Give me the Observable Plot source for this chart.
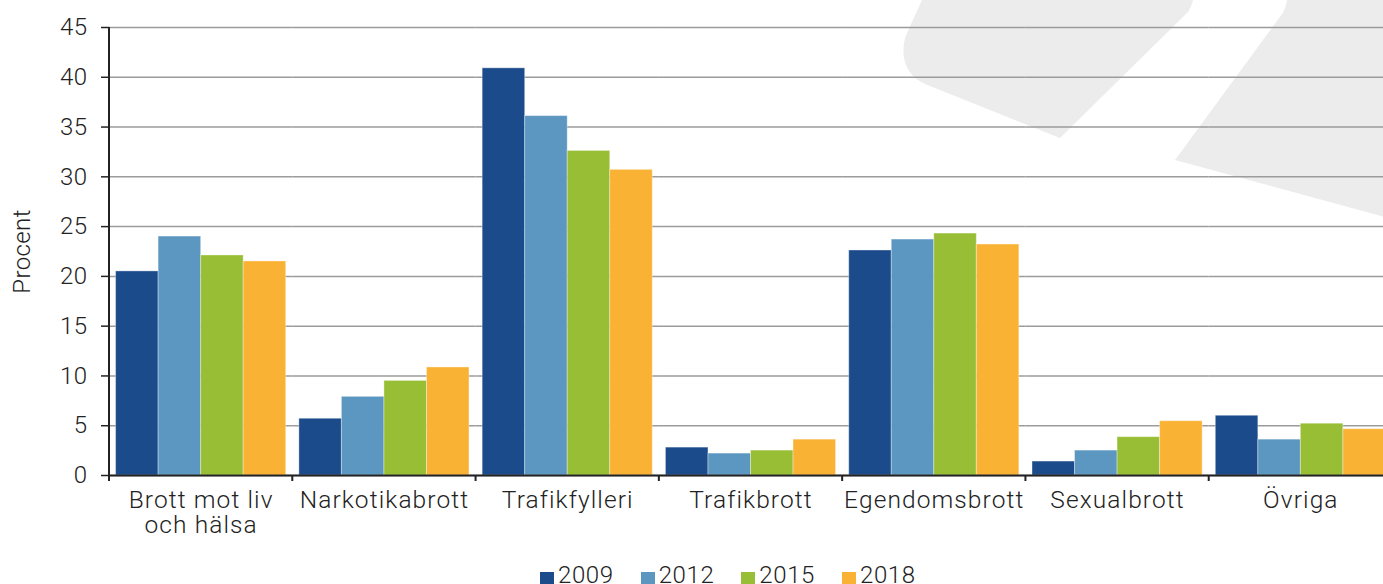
<!DOCTYPE html>
<html>
<head>
<meta charset="utf-8">
<script src="https://cdn.jsdelivr.net/npm/d3@7"></script>
<script src="https://cdn.jsdelivr.net/npm/@observablehq/plot@0.6"></script>
<style>
  html, body { margin: 0; padding: 0; background: #fff; overflow: hidden; }
  body { position: relative; width: 1383px; height: 584px; font-family: Roboto, "Noto Sans", sans-serif; }
  #deco { position: absolute; left: 0; top: 0; z-index: 0; }
  #chart { position: absolute; left: 0; top: 0; z-index: 1; width: 1392px; }
  #chart svg { max-width: none !important; }
  #legend { position: absolute; left: 540px; top: 561px; z-index: 2; display: flex; align-items: center;
            font-family: Roboto, sans-serif; font-weight: 300; font-size: 24px; color: #222; letter-spacing: 0.6px; line-height: 28px; }
  #legend .item { display: flex; align-items: center; margin-right: 27px; }
  #legend .sw { width: 14px; height: 14px; margin-right: 4px; margin-top: 8px; }
</style>
</head>
<body>
<svg id="deco" width="1392" height="584">
  <path d="M922,0 L907,33 C900,50 902,74 925,84 L1060,138 L1188,12 C1190,9 1192,4 1193,0 Z" fill="#ececec"/>
  <path d="M1287,0 C1286,5 1285,10 1282,14 L1175,160 L1392,219 L1392,0 Z" fill="#ececec"/>
</svg>
<div id="chart"></div>
<div id="legend"></div>
<script>
const categories = ["Brott mot liv och hälsa", "Narkotikabrott", "Trafikfylleri", "Trafikbrott", "Egendomsbrott", "Sexualbrott", "Övriga"];
const categoryLabels = ["Brott mot liv\noch hälsa", "Narkotikabrott", "Trafikfylleri", "Trafikbrott", "Egendomsbrott", "Sexualbrott", "Övriga"];
const years = ["2009", "2012", "2015", "2018"];
const v2009 = [20.5, 5.7, 40.9, 2.8, 22.6, 1.4, 6.0];
const v2012 = [24.0, 7.9, 36.1, 2.2, 23.7, 2.5, 3.6];
const v2015 = [22.1, 9.5, 32.6, 2.5, 24.3, 3.85, 5.2];
const v2018 = [21.5, 10.85, 30.7, 3.6, 23.2, 5.45, 4.65];
const yearColors = ["#1c4b8c", "#5b97c0", "#97be34", "#f9b233"];
const yTicks = [0, 5, 10, 15, 20, 25, 30, 35, 40, 45];
const yLabel = "Procent";

const series = [v2009, v2012, v2015, v2018];
const data = [];
categories.forEach((c, i) => years.forEach((y, j) => data.push({category: c, year: y, value: series[j][i]})));
const labelOf = new Map(categories.map((c, i) => [c, categoryLabels[i]]));

const W = 1392, H = 555, ML = 109;
const plot = Plot.plot({
  width: W, height: H,
  marginLeft: ML, marginRight: 0, marginTop: 27, marginBottom: 80,
  style: {fontFamily: "Roboto, sans-serif", fontSize: "24px", fontWeight: 300, color: "#222", background: "transparent", letterSpacing: "0.4px", maxWidth: "none"},
  fx: {domain: categories, padding: 0, round: false, axis: null},
  x: {domain: years, paddingInner: 0, paddingOuter: 0.155, round: false, axis: null},
  y: {domain: [0, 45], axis: null},
  color: {domain: years, range: yearColors},
  marks: [
    Plot.gridY(yTicks, {stroke: "#9b9b9b", strokeOpacity: 1, strokeWidth: 1.5}),
    Plot.barY(data, {fx: "category", x: "year", y: "value", fill: "year", inset: 0, stroke: "#ffffff", strokeOpacity: 0.35, strokeWidth: 1}),
    Plot.ruleY([0], {stroke: "#222", strokeWidth: 2}),
    Plot.axisY(yTicks, {tickSize: 8, tickPadding: 14, stroke: "#222", strokeWidth: 1.5, label: yLabel, labelAnchor: "center", labelArrow: "none", labelOffset: 97, fontSize: 24}),
    Plot.axisFx({anchor: "bottom", tickSize: 0, tickPadding: 14, tickFormat: d => labelOf.get(d), lineHeight: 1.05, fontSize: 24.5, label: null})
  ]
});
document.getElementById("chart").appendChild(plot);

// wider tracking for the category labels, like the reference typeface
d3.select(plot).selectAll("[aria-label='fx-axis tick label'] text, [aria-label='fx-axis tick label'] tspan").style("letter-spacing", "1.1px");

// y-axis line and category boundary ticks drawn from the library's scales
const fxs = plot.scale("fx"), ys = plot.scale("y");
const svg = d3.select(plot);
const g = svg.append("g").attr("stroke", "#222").attr("fill", "none");
const y0 = ys.apply(0), yTop = ys.apply(45);
const xLeft = fxs && fxs.apply ? fxs.apply(categories[0]) : ML;
g.append("line").attr("x1", xLeft).attr("x2", xLeft).attr("y1", yTop).attr("y2", y0).attr("stroke-width", 2);
categories.forEach(c => {
  const x = fxs && fxs.apply ? fxs.apply(c) : ML;
  g.append("line").attr("x1", x).attr("x2", x).attr("y1", y0).attr("y2", y0 + 6).attr("stroke-width", 2);
});

// legend below the chart
const legend = d3.select("#legend");
years.forEach((y, j) => {
  const it = legend.append("div").attr("class", "item");
  it.append("div").attr("class", "sw").style("background", yearColors[j]);
  it.append("span").text(y);
});
</script>
</body>
</html>
